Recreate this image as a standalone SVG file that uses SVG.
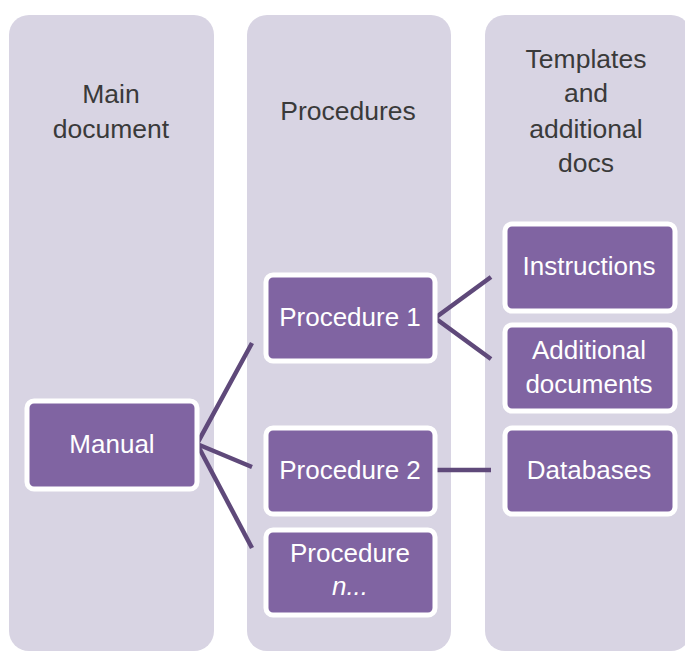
<svg xmlns="http://www.w3.org/2000/svg" width="685" height="651" viewBox="0 0 685 651">
<style>
.col{fill:#D8D4E3;}
.box{fill:#8064A2;stroke:#FFFFFF;stroke-width:5;}
.hdr{font-family:"Liberation Sans",Arial,sans-serif;font-size:26.5px;fill:#3A3A3A;text-anchor:middle;}
.lbl{font-family:"Liberation Sans",Arial,sans-serif;font-size:26px;fill:#FFFFFF;text-anchor:middle;}
.conn{stroke:#5F497A;stroke-width:4.5;fill:none;stroke-linecap:butt;stroke-linejoin:miter;}
</style>
<rect width="685" height="651" fill="#FFFFFF"/>
<g id="columns">
<rect class="col" x="9" y="15" width="205" height="636" rx="20"/>
<rect class="col" x="247" y="15" width="204" height="636" rx="20"/>
<rect class="col" x="485" y="15" width="206" height="636" rx="20"/>
</g>
<g id="headers">
<text class="hdr" x="111" y="103">Main</text>
<text class="hdr" x="111" y="138">document</text>
<text class="hdr" x="348" y="120">Procedures</text>
<text class="hdr" x="586" y="68">Templates</text>
<text class="hdr" x="586" y="102">and</text>
<text class="hdr" x="586" y="138">additional</text>
<text class="hdr" x="586" y="172">docs</text>
</g>
<g id="connectors">
<polyline class="conn" points="252,343 197,444 252,467"/>
<line class="conn" x1="197" y1="444" x2="252" y2="548"/>
<polyline class="conn" points="491,277 435,318 491,359"/>
<line class="conn" x1="435" y1="470" x2="491" y2="470"/>
</g>
<g id="manual">
<rect class="box" x="27" y="401" width="170" height="88" rx="7"/>
<text class="lbl" x="112" y="453">Manual</text>
</g>
<g id="procedure1">
<rect class="box" x="266" y="275" width="169" height="86" rx="7"/>
<text class="lbl" x="350" y="326">Procedure 1</text>
</g>
<g id="procedure2">
<rect class="box" x="266" y="428" width="169" height="86" rx="7"/>
<text class="lbl" x="350" y="479">Procedure 2</text>
</g>
<g id="proceduren">
<rect class="box" x="266" y="530" width="169" height="85" rx="7"/>
<text class="lbl" x="350" y="562">Procedure</text>
<text class="lbl" x="350" y="595" font-style="italic">n...</text>
</g>
<g id="instructions">
<rect class="box" x="505" y="224" width="170" height="87" rx="7"/>
<text class="lbl" x="589" y="275">Instructions</text>
</g>
<g id="additional">
<rect class="box" x="505" y="325" width="170" height="86" rx="7"/>
<text class="lbl" x="589" y="359">Additional</text>
<text class="lbl" x="589" y="393">documents</text>
</g>
<g id="databases">
<rect class="box" x="505" y="428" width="170" height="86" rx="7"/>
<text class="lbl" x="589" y="479">Databases</text>
</g>
</svg>
